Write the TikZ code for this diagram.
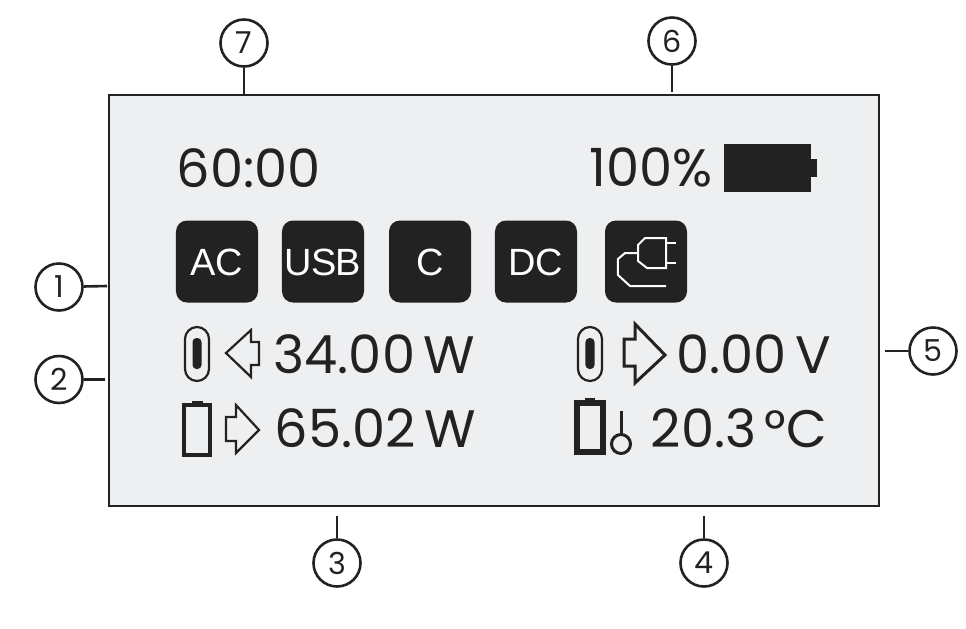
\documentclass[tikz,border=0pt]{standalone}
\usepackage{fontspec}
\setmainfont{Poppins}[WordSpace=0.6]
\newfontfamily\btnfont{Liberation Sans}
\definecolor{panelgray}{HTML}{EEEFF1}
\definecolor{ink}{HTML}{222222}
\tikzset{
    callout/.style={circle, draw=ink, line width=.026cm, minimum size=.47cm, inner sep=0pt, text=ink, font=\fontsize{8.6}{10}\selectfont},
    tick/.style={draw=ink, line width=.026cm},
    btn/.style={fill=ink, rounded corners=.11cm, minimum size=.82cm, inner sep=0pt, text height=.285cm, text depth=0pt, text=white, font=\btnfont\fontsize{10.8}{12}\selectfont},
    readout/.style={anchor=base west, inner sep=0pt, text=ink, font=\fontsize{15}{18}\selectfont},
    icon/.style={draw=ink, line width=.022cm, line join=miter}
}
\begin{document}
\begin{tikzpicture}
    \useasboundingbox (0,0) rectangle (9.66,6.28);
    % Display
    \draw [draw=ink, fill=panelgray, line width=.02cm] (1.09,1.22) rectangle (8.79,5.33);
    % Callouts
    \node [callout] (N1) at (0.59,3.41) {1};
    \node [callout] (N2) at (0.59,2.485) {2};
    \node [callout] (N3) at (3.37,0.65) {3};
    \node [callout] (N4) at (7.04,0.65) {4};
    \node [callout] (N5) at (9.33,2.77) {5};
    \node [callout] (N6) at (6.72,5.87) {6};
    \node [callout] (N7) at (2.44,5.85) {7};
    \coordinate (E1) at (1.07,3.42);
    \coordinate (E2) at (1.05,2.485);
    \coordinate (E3) at (3.37,1.12);
    \coordinate (E4) at (7.04,1.12);
    \coordinate (E5) at (8.85,2.77);
    \coordinate (E6) at (6.72,5.36);
    \coordinate (E7) at (2.44,5.33);
    \foreach \n in {1,...,7} \draw [tick] (N\n) -- (E\n);
    % Top line
    \node [readout] (time) at (1.76,4.41) {60:00};
    \node [readout] (charge) at (5.89,4.42) {100\%};
    \fill [ink] (7.24,4.36) rectangle (8.11,4.84);
    \fill [ink] (8.11,4.51) rectangle (8.17,4.69);
    % Buttons
    \node [btn] (ac) at (2.17,3.665) {AC};
    \node [btn] (usb) at (3.23,3.665) {\addfontfeature{LetterSpace=-2}USB};
    \node [btn] (c) at (4.30,3.665) {C};
    \node [btn] (dc) at (5.36,3.665) {DC};
    \node [btn] (plug) at (6.46,3.665) {};
    \draw [white, line width=.02cm] (6.45,3.90) -- (6.66,3.90) -- (6.66,3.60) -- (6.47,3.60) -- (6.38,3.67) -- (6.38,3.83) -- cycle;
    \draw [white, line width=.02cm] (6.66,3.85) -- (6.76,3.85);
    \draw [white, line width=.02cm] (6.66,3.65) -- (6.76,3.65);
    \draw [white, line width=.02cm] (6.38,3.75) -- (6.25,3.75) -- (6.18,3.69) -- (6.18,3.53) -- (6.30,3.42) -- (6.66,3.42);
    % Readings
    \node [readout] (inw) at (2.73,2.55) {34.00 W};
    \node [readout] (batw) at (2.74,1.81) {65.02 W};
    \node [readout] (outv) at (6.76,2.55) {0.00 V};
    \node [readout] (temp) at (6.50,1.81) {20.3 °C};
    % USB-C ports
    \draw [icon, rounded corners=.12cm] (1.85,2.47) rectangle (2.09,3.01);
    \fill [ink, rounded corners=.04cm] (1.925,2.59) rectangle (2.015,2.90);
    \draw [icon, rounded corners=.12cm] (5.78,2.47) rectangle (6.02,3.01);
    \fill [ink, rounded corners=.04cm] (5.855,2.59) rectangle (5.945,2.90);
    % Arrows
    \draw [icon] (2.26,2.75) -- (2.51,2.98) -- (2.51,2.86) -- (2.59,2.86) -- (2.59,2.63) -- (2.51,2.63) -- (2.51,2.51) -- cycle;
    \draw [icon] (2.59,1.98) -- (2.36,2.23) -- (2.36,2.11) -- (2.26,2.11) -- (2.26,1.87) -- (2.36,1.87) -- (2.36,1.75) -- cycle;
    \draw [icon, line width=.03cm] (6.65,2.73) -- (6.35,3.04) -- (6.35,2.89) -- (6.24,2.89) -- (6.24,2.62) -- (6.35,2.62) -- (6.35,2.45) -- cycle;
    % Batteries
    \draw [icon, line width=.045cm] (1.84,1.73) rectangle (2.10,2.23);
    \fill [ink] (1.92,2.24) rectangle (2.03,2.27);
    \draw [icon, line width=.065cm] (5.77,1.76) rectangle (6.03,2.25);
    \fill [ink] (5.85,2.27) rectangle (5.95,2.30);
    % Thermometer
    \draw [icon, line width=.03cm] (6.21,1.84) circle (.095);
    \draw [icon, line width=.03cm] (6.21,1.94) -- (6.21,2.17);
\end{tikzpicture}
\end{document}
